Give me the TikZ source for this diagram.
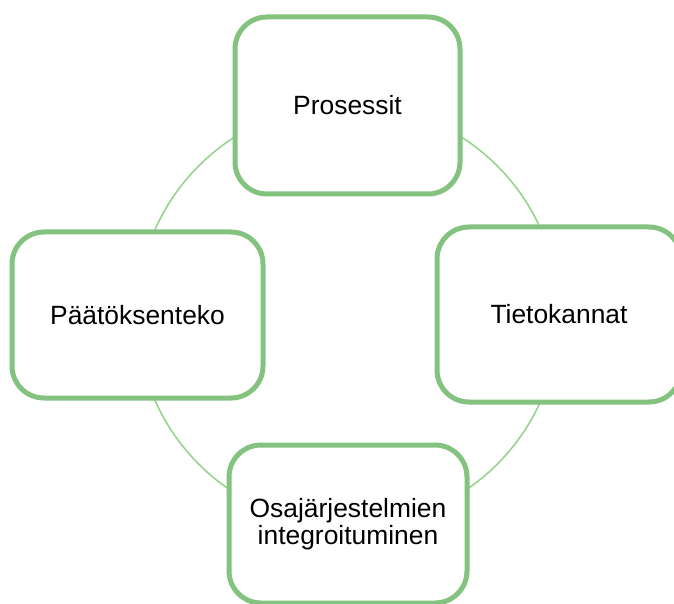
\documentclass[tikz,border=0pt]{standalone}
\usepackage{fontspec}
\setmainfont{Liberation Sans}
\usepackage{tikz}

\definecolor{boxgreen}{RGB}{132,194,128}
\definecolor{ringgreen}{RGB}{150,212,142}

\tikzset{
    vaihe/.style={draw=boxgreen, line width=2.5pt, fill=white,
        rounded corners=16pt, align=center,
        font=\fontsize{13.2}{13.6}\selectfont}
}

\begin{document}
\begin{tikzpicture}[x=0.5pt,y=-0.5pt]
\useasboundingbox (0,0) rectangle (674,604);

%==================== 背景圆 ====================
\draw[ringgreen, line width=0.8pt] (348,315) circle[radius=105.5pt];

%==================== 四个框 ====================
\node[vaihe, minimum width=112.5pt, minimum height=88.5pt]
    (prosessit) at (347.5,105.5) {Prosessit};
\node[vaihe, minimum width=122pt, minimum height=87.5pt]
    (tietokannat) at (559,314.5) {Tietokannat};
\node[vaihe, minimum width=119pt, minimum height=79pt]
    (osajarj) at (348,524) {Osajärjestelmien\\integroituminen};
\node[vaihe, minimum width=125.5pt, minimum height=83pt]
    (paatos) at (137.5,315) {Päätöksenteko};

\end{tikzpicture}
\end{document}
